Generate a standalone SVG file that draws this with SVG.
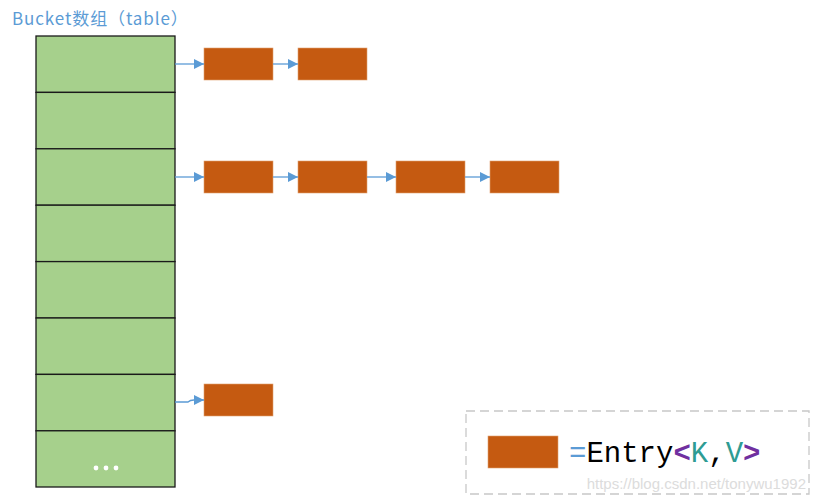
<svg xmlns="http://www.w3.org/2000/svg" width="815" height="502" viewBox="0 0 815 502">
<defs>
<style>
.cell{fill:#a6d08c;stroke:#1a1a1a;stroke-width:1.3}
.entry{fill:#c55a11;stroke:#e0a070;stroke-width:0.6}
.conn{stroke:#5b9bd5;stroke-width:1.3;fill:none}
</style>
<marker id="ah" viewBox="0 0 10 10" refX="10" refY="5" markerWidth="10" markerHeight="10" markerUnits="userSpaceOnUse" orient="auto">
<path d="M0,0 L10,5 L0,10 z" fill="#5b9bd5"/>
</marker>
</defs>
<rect width="815" height="502" fill="#fff"/>
<text x="12" y="25" font-family="'Noto Sans CJK SC','Noto Sans',sans-serif" font-size="17" letter-spacing="0.9" fill="#5b9bd5">Bucket数组（table）</text>
<g id="table">
<rect class="cell" x="36" y="36" width="139" height="56.4"/>
<rect class="cell" x="36" y="92.4" width="139" height="56.4"/>
<rect class="cell" x="36" y="148.8" width="139" height="56.4"/>
<rect class="cell" x="36" y="205.2" width="139" height="56.4"/>
<rect class="cell" x="36" y="261.6" width="139" height="56.4"/>
<rect class="cell" x="36" y="318" width="139" height="56.4"/>
<rect class="cell" x="36" y="374.4" width="139" height="56.4"/>
<rect class="cell" x="36" y="430.8" width="139" height="56.2"/>
<circle cx="96" cy="468" r="2.4" fill="#fff"/>
<circle cx="106" cy="468" r="2.4" fill="#fff"/>
<circle cx="116" cy="468" r="2.4" fill="#fff"/>
</g>
<g id="e1"><rect class="entry" x="204" y="48" width="69" height="32"/></g>
<g id="e2"><rect class="entry" x="298" y="48" width="69" height="32"/></g>
<g id="e3"><rect class="entry" x="204" y="161" width="69" height="32"/></g>
<g id="e4"><rect class="entry" x="298" y="161" width="69" height="32"/></g>
<g id="e5"><rect class="entry" x="396" y="161" width="69" height="32"/></g>
<g id="e6"><rect class="entry" x="490" y="161" width="69" height="32"/></g>
<g id="e7"><rect class="entry" x="204" y="384" width="69" height="32"/></g>
<g id="connectors">
<line class="conn" x1="175" y1="64" x2="204" y2="64" marker-end="url(#ah)"/>
<line class="conn" x1="273" y1="64" x2="298" y2="64" marker-end="url(#ah)"/>
<line class="conn" x1="175" y1="177" x2="204" y2="177" marker-end="url(#ah)"/>
<line class="conn" x1="273" y1="177" x2="298" y2="177" marker-end="url(#ah)"/>
<line class="conn" x1="367" y1="177" x2="396" y2="177" marker-end="url(#ah)"/>
<line class="conn" x1="465" y1="177" x2="490" y2="177" marker-end="url(#ah)"/>
<path class="conn" d="M175,402 L188,402 Q190,400 194,400 L204,400" marker-end="url(#ah)"/>
</g>
<g id="legend">
<rect x="466" y="411" width="343" height="83" fill="none" stroke="#c8c8c8" stroke-width="1.3" stroke-dasharray="9,5"/>
<rect class="entry" x="488" y="436" width="70" height="32"/>
<text x="569" y="462" font-family="'Liberation Mono','DejaVu Sans Mono',monospace" font-size="29"><tspan fill="#5b9bd5">=</tspan><tspan fill="#000">Entry</tspan><tspan fill="#7030a0" font-weight="bold">&lt;</tspan><tspan fill="#2e9c93">K</tspan><tspan fill="#000">,</tspan><tspan fill="#2e9c93">V</tspan><tspan fill="#7030a0" font-weight="bold">&gt;</tspan></text>
<text x="806" y="489" text-anchor="end" font-family="'Liberation Sans',Arial,sans-serif" font-size="15" fill="#dcdcdc">https://blog.csdn.net/tonywu1992</text>
</g>
</svg>
